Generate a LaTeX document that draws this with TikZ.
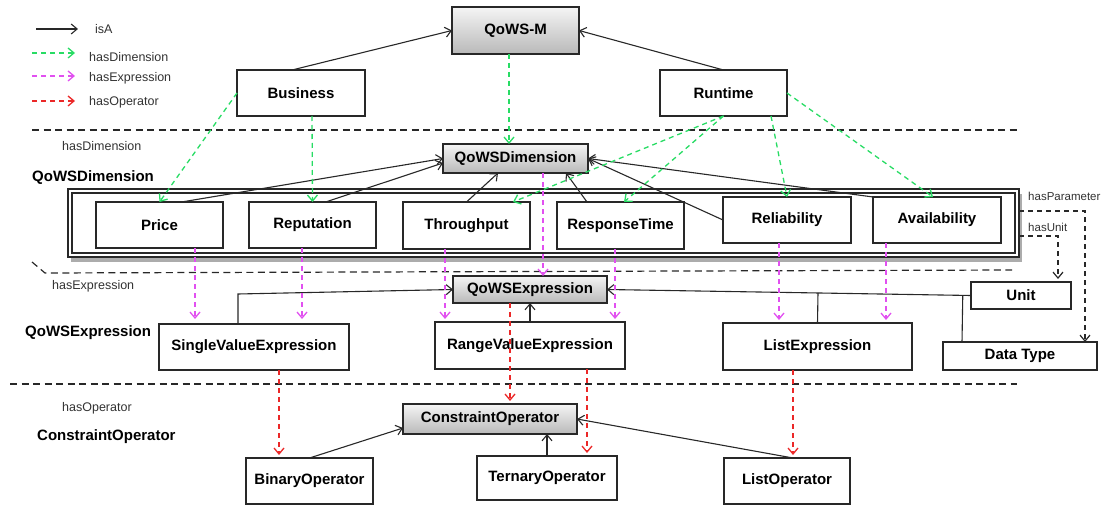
\documentclass[tikz,border=0pt]{standalone}
\usepackage{fontspec}
\setmainfont{Liberation Sans}
\usetikzlibrary{arrows.meta,shadows,calc}
\definecolor{gdim}{RGB}{40,220,100}
\definecolor{mexp}{RGB}{225,80,240}
\definecolor{rop}{RGB}{235,40,40}
\definecolor{edge}{RGB}{40,40,40}
\definecolor{txt}{RGB}{50,50,50}
\begin{document}
\begin{tikzpicture}[x=1pt,y=-1pt,
  box/.style={draw=edge, line width=1.2pt, fill=white, inner sep=0pt, outer sep=0pt, font=\fontsize{15}{18}\selectfont\bfseries, text=black},
  gbox/.style={draw=edge, line width=1.2pt, inner sep=0pt, outer sep=0pt, font=\fontsize{15}{18}\selectfont\bfseries, text=black, top color=gray!8, bottom color=gray!55},
  lbl/.style={font=\fontsize{12.5}{15}\selectfont, text=txt, inner sep=0pt, anchor=west},
  slbl/.style={font=\fontsize{11.5}{14}\selectfont, text=txt, inner sep=0pt, anchor=west},
  blbl/.style={font=\fontsize{15}{18}\selectfont\bfseries, inner sep=0pt, anchor=west},
  tip/.style={-{Straight Barb[length=6pt,width=10pt]}},
  isa/.style={tip, draw=edge, line width=1.1pt},
  dim/.style={tip, draw=gdim, dash pattern=on 5pt off 4pt, line width=1.3pt},
  expr/.style={tip, draw=mexp, dash pattern=on 5pt off 4pt, line width=1.3pt},
  oper/.style={tip, draw=rop, dash pattern=on 5pt off 4pt, line width=1.3pt},
  prop/.style={tip, draw=edge, dash pattern=on 5pt off 4pt, line width=1.2pt},
  sep/.style={draw=edge, dash pattern=on 7pt off 4.5pt, line width=1.2pt}
]
\useasboundingbox (0,0) rectangle (1110,505);

% legend
\coordinate (l1a) at (36,29);  \coordinate (l1b) at (78,29);
\coordinate (l2a) at (32,53);  \coordinate (l2b) at (75,53);
\coordinate (l3a) at (32,76);  \coordinate (l3b) at (75,76);
\coordinate (l4a) at (32,101); \coordinate (l4b) at (75,101);
\draw[isa] (l1a) -- (l1b);
\draw[dim] (l2a) -- (l2b);
\draw[expr] (l3a) -- (l3b);
\draw[oper] (l4a) -- (l4b);
\node[lbl] (lt1) at (95,29) {isA};
\node[lbl] (lt2) at (89,57) {hasDimension};
\node[lbl] (lt3) at (89,78) {hasExpression};
\node[lbl] (lt4) at (89,102) {hasOperator};

% separators
\draw[sep] (32,130) -- (1018,130);
\draw[sep] (32,262) -- (45,273) -- (1012,270);
\draw[sep] (10,384) -- (1017,384);

% side labels
\node[lbl] (s1) at (62,146) {hasDimension};
\node[blbl] (s2) at (32,178) {QoWSDimension};
\node[lbl] (s3) at (52,286) {hasExpression};
\node[blbl] (s4) at (25,333) {QoWSExpression};
\node[lbl] (s5) at (62,408) {hasOperator};
\node[blbl] (s6) at (37,437) {ConstraintOperator};

% top nodes
\node[gbox, minimum width=127pt, minimum height=47pt] (qm) at (515.5,30.5) {QoWS-M};
\node[box, minimum width=128pt, minimum height=46pt] (bus) at (301,93) {Business};
\node[box, minimum width=127pt, minimum height=46pt] (run) at (723.5,93) {Runtime};
\node[gbox, minimum width=145pt, minimum height=29pt] (qd) at (515.5,158.5) {QoWSDimension};

% container (double border with shadow)
\node[draw=edge, line width=1.1pt, fill=white, minimum width=951pt, minimum height=68pt,
      inner sep=0pt, outer sep=0pt,
      drop shadow={shadow xshift=3pt, shadow yshift=-5pt, fill=gray!65, opacity=1}] (cont) at (543.5,223) {};
\draw[edge, line width=1.1pt] ([xshift=4pt,yshift=-4pt]cont.north west) rectangle ([xshift=-4pt,yshift=4pt]cont.south east);

\node[box, minimum width=127pt, minimum height=46pt] (price) at (159.5,225) {Price};
\node[box, minimum width=127pt, minimum height=46pt] (rep) at (312.5,225) {Reputation};
\node[box, minimum width=127pt, minimum height=47pt] (thr) at (466.5,225.5) {Throughput};
\node[box, minimum width=127pt, minimum height=47pt] (rt) at (620.5,225.5) {ResponseTime};
\node[box, minimum width=128pt, minimum height=46pt] (rel) at (787,220) {Reliability};
\node[box, minimum width=128pt, minimum height=46pt] (ava) at (937,220) {Availability};

% expression row
\node[gbox, minimum width=154pt, minimum height=27pt] (qe) at (530,289.5) {QoWSExpression};
\node[box, minimum width=190pt, minimum height=46pt] (sve) at (254,347) {SingleValueExpression};
\node[box, minimum width=190pt, minimum height=47pt] (rve) at (530,345.5) {RangeValueExpression};
\node[box, minimum width=189pt, minimum height=47pt] (le) at (817.5,346.5) {ListExpression};
\node[box, minimum width=100pt, minimum height=27pt] (unit) at (1021,295.5) {Unit};
\node[box, minimum width=154pt, minimum height=28pt] (dt) at (1020,356) {Data Type};

% operator row
\node[gbox, minimum width=174pt, minimum height=30pt] (co) at (490,419) {ConstraintOperator};
\node[box, minimum width=127pt, minimum height=46pt] (bo) at (309.5,481) {BinaryOperator};
\node[box, minimum width=140pt, minimum height=44pt] (to) at (547,478) {TernaryOperator};
\node[box, minimum width=126pt, minimum height=46pt] (lo) at (787,481) {ListOperator};

% property labels
\node[slbl] (hp) at (1028,196) {hasParameter};
\node[slbl] (hu) at (1028,227) {hasUnit};

% isA
\draw[isa] ([xshift=-9pt]bus.north) -- (qm.west);
\draw[isa] (run.north) -- (qm.east);
\draw[isa] ([xshift=22pt]price.north) -- (qd.west);
\draw[isa] ([xshift=13pt]rep.north) -- ([yshift=-4.5pt]qd.west);
\draw[isa] (thr.north) -- ([xshift=-17.5pt]qd.south);
\draw[isa] ([xshift=-33.5pt]rt.north) -- ([xshift=50.5pt]qd.south);
\draw[isa] (rel.west) -- (qd.east);
\draw[isa] (ava.north west) -- (qd.east);
\draw[isa] ([xshift=-16pt]sve.north) -- ++(0,-30) -- (qe.west);
\draw[isa] (rve.north) -- (qe.south);
\draw[isa] (unit.west) -- (qe.east);
\draw[edge, line width=1.1pt] (le.north) -- ($(qe.east)!(le.north)!(unit.west)$);
\draw[edge, line width=1.1pt] ([xshift=-58pt]dt.north) -- ($(qe.east)!([xshift=-58pt]dt.north)!(unit.west)$);
\draw[isa] (bo.north) -- ([yshift=-9pt]co.west);
\draw[isa] (to.north) -- (to.north |- co.south);
\draw[isa] ([xshift=6pt]lo.north) -- (co.east);

% hasDimension
\draw[dim] ([xshift=-6.5pt]qm.south) -- ([xshift=-6.5pt]qd.north);
\draw[dim] (bus.west) -- (price.north);
\draw[dim] ([xshift=11pt]bus.south) -- (rep.north);
\draw[dim] (run.south) -- ([xshift=46.5pt]thr.north);
\draw[dim] (run.south) -- ([xshift=3.5pt]rt.north);
\draw[dim] ([xshift=47.5pt]run.south) -- (rel.north);
\draw[dim] (run.east) -- ([xshift=-4pt]ava.north);

% hasExpression
\draw[expr] ([xshift=27.5pt]qd.south) -- ([xshift=13pt]qe.north);
\draw[expr, shorten >=5pt] ([xshift=35.5pt]price.south) -- ([xshift=35.5pt]price.south |- sve.north);
\draw[expr, shorten >=5pt] ([xshift=-10.5pt]rep.south) -- ([xshift=-10.5pt]rep.south |- sve.north);
\draw[expr, shorten >=3pt] ([xshift=-21.5pt]thr.south) -- ([xshift=-21.5pt]thr.south |- rve.north);
\draw[expr, shorten >=3pt] ([xshift=-5.5pt]rt.south) -- ([xshift=-5.5pt]rt.south |- rve.north);
\draw[expr, shorten >=3pt] ([xshift=-8pt]rel.south) -- ([xshift=-8pt]rel.south |- le.north);
\draw[expr, shorten >=3pt] ([xshift=-51pt]ava.south) -- ([xshift=-51pt]ava.south |- le.north);

% hasOperator
\draw[oper, shorten >=3pt] ([xshift=-20pt]qe.south) -- ([xshift=-20pt]qe.south |- co.north);
\draw[oper, shorten >=3pt] ([xshift=25pt]sve.south) -- ([xshift=25pt]sve.south |- bo.north);
\draw[oper, shorten >=3pt] ([xshift=57pt]rve.south) -- ([xshift=57pt]rve.south |- to.north);
\draw[oper, shorten >=3pt] ([xshift=-24.5pt]le.south) -- ([xshift=-24.5pt]le.south |- lo.north);

% hasParameter / hasUnit
\draw[prop] ([yshift=12pt]cont.east) -| ([xshift=65pt]dt.north);
\draw[prop, shorten >=3pt] ([yshift=-13pt]cont.east) -| ([xshift=37pt]unit.north);
\end{tikzpicture}
\end{document}
